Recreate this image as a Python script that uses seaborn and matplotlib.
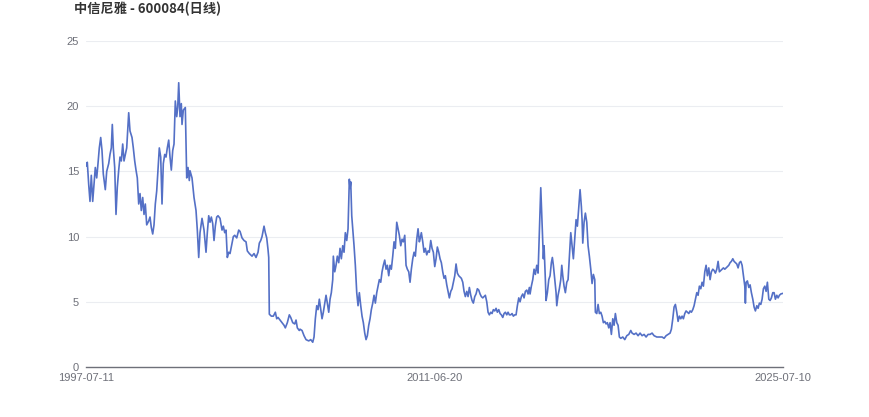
import matplotlib
matplotlib.use("Agg")
import matplotlib.pyplot as plt
import seaborn as sns
import pandas as pd

title = "中信尼雅 - 600084(日线)"
n_days = 6970
tick_labels = ["1997-07-11", "2011-06-20", "2025-07-10"]
y_ticks = [0, 5, 10, 15, 20, 25]

# trading-day index (category position)
day = [
    0, 13, 27, 40, 53, 67, 80, 93, 107, 120, 133, 147, 160, 173, 193, 207, 227, 240, 253, 263,
    273, 287, 300, 313, 327, 340, 353, 367, 380, 393, 407, 427, 440, 460, 473, 487, 500, 513, 527, 540,
    553, 567, 580, 593, 607, 627, 640, 653, 667, 680, 693, 707, 720, 733, 747, 760, 773, 787, 800, 813,
    827, 840, 853, 867, 880, 893, 907, 917, 927, 940, 953, 960, 973, 993, 1007, 1020, 1033,
    1040, 1060, 1080, 1100, 1113, 1127, 1140, 1160, 1180, 1200, 1213, 1227, 1240, 1253, 1267, 1280, 1293, 1307, 1320, 1340,
    1360, 1373, 1387, 1400, 1413, 1427, 1440, 1453, 1473, 1487, 1507, 1527, 1540, 1560, 1580, 1600, 1613, 1633, 1660, 1680,
    1700, 1720, 1733, 1747, 1760, 1780, 1793, 1807, 1820, 1827, 1833, 1853, 1873, 1893, 1907, 1920, 1940, 1960, 1980, 1993,
    2013, 2033, 2047, 2067, 2087, 2100, 2113, 2133,
    2140, 2160, 2180, 2200, 2227, 2247, 2267, 2280, 2293, 2307, 2320, 2333, 2347, 2360, 2373, 2387, 2400, 2413, 2427, 2440,
    2453, 2467, 2473, 2487, 2500, 2513, 2527, 2540, 2553, 2567, 2580, 2593, 2607, 2620, 2633, 2640, 2647, 2657, 2667, 2680,
    2693, 2707, 2720, 2733, 2747, 2760, 2773, 2787, 2800, 2813, 2827, 2840, 2853, 2867, 2880, 2893, 2907, 2920, 2933, 2947,
    2960, 2973, 2987, 3000, 3013, 3027, 3040, 3053, 3067, 3080, 3093, 3107, 3120, 3133, 3147, 3160, 3173, 3187, 3200, 3213,
    3227, 3240, 3253, 3267, 3280, 3293, 3307, 3320, 3333,
    3340, 3353, 3367, 3380, 3393, 3407, 3420, 3433, 3447, 3460, 3473, 3487, 3500, 3513, 3527, 3540, 3553, 3567, 3580, 3593,
    3607, 3620, 3633, 3647, 3660, 3673, 3687, 3700, 3713, 3727, 3740, 3753, 3767, 3780, 3793, 3807, 3820, 3833, 3847, 3860,
    3873, 3887, 3900, 3913, 3927, 3940, 3953, 3967, 3980, 3993, 4007, 4020, 4033, 4047, 4060, 4073, 4087, 4100, 4113, 4127,
    4140, 4153, 4167, 4180, 4193, 4207, 4220, 4233, 4247, 4260, 4273, 4287, 4300, 4313, 4327, 4340, 4353, 4367, 4380, 4393,
    4407, 4420, 4433,
    4440, 4453, 4467, 4480, 4493, 4507, 4520, 4533, 4547, 4557, 4567, 4573, 4580, 4587, 4593, 4600, 4613, 4627, 4640, 4653,
    4663, 4673, 4687, 4700, 4707, 4720, 4733, 4747, 4757, 4767, 4780, 4793, 4807, 4820, 4833, 4847, 4860, 4873, 4887, 4900,
    4913, 4927, 4940, 4953, 4960, 4967, 4980, 4993, 5007, 5020, 5033, 5047, 5060, 5073, 5087, 5093, 5107, 5120, 5133, 5147,
    5160, 5173, 5187, 5200, 5213, 5227, 5240, 5253, 5267, 5280, 5293, 5307, 5320, 5333, 5347, 5367, 5387, 5407, 5427, 5447,
    5460, 5480, 5500, 5520, 5540, 5560, 5580, 5600, 5620,
    5640, 5660, 5680, 5707, 5733, 5760, 5780, 5800, 5820, 5840, 5853, 5867, 5880, 5893, 5907, 5920, 5933, 5947, 5960, 5973,
    5987, 6000, 6013, 6027, 6040, 6053, 6067, 6080, 6093, 6107, 6120, 6133, 6147, 6160, 6173, 6187, 6200, 6213, 6227, 6240,
    6253, 6267, 6280, 6293, 6307, 6320, 6333, 6347, 6360, 6373, 6387, 6400, 6413, 6427, 6440, 6453, 6467, 6480, 6493, 6507,
    6520, 6533, 6547, 6560, 6573, 6587, 6593, 6600, 6613, 6627, 6640, 6653, 6667, 6680, 6693, 6707, 6720, 6733, 6747, 6760,
    6773, 6787, 6800, 6813, 6827, 6840, 6853, 6867, 6880, 6893, 6907, 6920, 6933, 6947, 6969,
]

close = [
    15.4, 15.7, 14.0, 12.7, 14.7, 12.7, 14.0, 15.3, 14.5, 15.6, 16.8, 17.6, 16.6, 14.8, 13.6, 15.0, 15.6, 16.3, 16.8, 18.6,
    16.8, 15.3, 11.7, 13.8, 15.1, 16.1, 15.8, 17.1, 15.8, 16.3, 16.8, 19.5, 18.1, 17.6, 16.8, 15.8, 15.1, 14.5, 12.5, 13.3,
    12.0, 13.0, 11.7, 12.5, 10.9, 11.2, 11.5, 10.7, 10.2, 10.9, 12.5, 13.5, 15.1, 16.8, 16.1, 12.5, 15.6, 16.3, 16.1, 16.8,
    17.4, 16.1, 15.1, 16.6, 17.1, 20.4, 19.2, 19.9, 21.8, 19.2, 20.2, 18.6, 19.7, 19.9, 14.5, 15.3, 14.3,
    15.05, 14.5, 13.0, 12.0, 10.5, 8.4, 10.3, 11.4, 10.5, 8.8, 10.3, 11.6, 11.1, 11.5, 11.0, 9.7, 10.8, 11.5, 11.6, 11.4,
    10.5, 10.8, 10.3, 10.5, 8.4, 8.8, 8.7, 9.2, 10.0, 10.1, 9.9, 10.5, 10.4, 9.9, 9.7, 9.6, 8.9, 8.7, 8.5, 8.7,
    8.4, 8.8, 9.5, 9.7, 10.0, 10.8, 10.3, 9.9, 9.0, 8.4, 4.05, 3.9, 3.9, 4.2, 3.7, 3.8, 3.6, 3.4, 3.2, 3.0,
    3.4, 4.0, 3.8, 3.4, 3.3, 3.6, 3.0, 2.8,
    2.9, 2.8, 2.4, 2.1, 2.0, 2.1, 1.9, 2.3, 3.7, 4.7, 4.4, 5.2, 4.4, 3.7, 4.2, 4.9, 5.5, 4.9, 4.2, 5.2,
    5.7, 6.7, 8.5, 7.3, 7.8, 8.5, 8.0, 9.1, 8.3, 9.3, 8.8, 10.3, 9.7, 10.6, 14.4, 13.7, 14.2, 11.6, 10.6, 9.3,
    7.8, 5.7, 4.7, 5.7, 4.7, 3.9, 3.4, 2.6, 2.1, 2.4, 3.2, 3.7, 4.4, 4.9, 5.5, 4.9, 5.7, 6.2, 6.7, 6.5,
    7.3, 7.8, 8.2, 7.5, 7.8, 7.0, 7.8, 7.5, 8.5, 9.6, 9.1, 11.1, 10.6, 10.1, 9.3, 9.8, 9.6, 10.1, 7.8, 7.5,
    7.3, 6.5, 7.5, 8.3, 8.8, 8.5, 9.8, 10.6, 9.6,
    9.8, 10.3, 9.6, 8.8, 9.1, 8.6, 8.9, 8.8, 9.7, 9.1, 8.8, 7.7, 8.3, 9.2, 8.8, 8.3, 8.0, 7.3, 6.8, 7.0,
    6.3, 5.8, 5.3, 5.8, 6.0, 6.5, 7.0, 7.9, 7.2, 7.0, 6.9, 6.8, 6.5, 5.8, 5.4, 5.8, 5.4, 6.1, 5.5, 5.1,
    4.9, 5.4, 5.6, 6.0, 5.9, 5.6, 5.4, 5.3, 5.4, 5.5, 5.0, 4.2, 4.0, 4.2, 4.1, 4.4, 4.3, 4.5, 4.2, 4.4,
    4.1, 4.0, 3.8, 4.1, 4.2, 4.0, 4.2, 4.0, 4.0, 4.1, 3.9, 4.0, 4.0, 4.7, 5.3, 5.0, 5.4, 5.6, 5.3, 5.8,
    5.9, 5.6, 6.1,
    5.6, 6.2, 6.7, 7.5, 7.1, 7.8, 7.2, 10.3, 13.75, 11.6, 9.3, 8.3, 9.3, 8.0, 6.7, 5.1, 5.7, 6.7, 7.0, 8.0,
    8.4, 7.8, 6.7, 5.7, 4.7, 5.5, 6.0, 6.7, 7.8, 7.0, 6.2, 5.7, 6.5, 6.7, 8.5, 10.3, 9.3, 8.3, 9.8, 11.3,
    10.8, 12.3, 13.6, 12.3, 11.3, 9.5, 11.1, 11.8, 11.1, 9.3, 8.5, 7.5, 6.4, 7.1, 6.7, 4.2, 4.1, 4.8, 4.1, 4.2,
    3.9, 3.4, 3.5, 3.3, 3.4, 3.0, 3.4, 2.5, 3.7, 3.2, 4.1, 3.4, 3.2, 2.3, 2.2, 2.3, 2.1, 2.4, 2.5, 2.8,
    2.6, 2.5, 2.6, 2.4, 2.6, 2.4, 2.5, 2.3, 2.5,
    2.5, 2.6, 2.4, 2.3, 2.3, 2.3, 2.2, 2.4, 2.5, 2.6, 2.9, 3.7, 4.6, 4.8, 4.2, 3.5, 3.9, 3.7, 3.9, 3.7,
    4.1, 4.3, 4.2, 4.1, 4.3, 4.2, 4.4, 4.7, 5.2, 5.7, 5.5, 6.2, 6.0, 6.5, 6.2, 7.3, 7.8, 7.0, 7.6, 6.7,
    7.3, 7.5, 7.4, 7.2, 7.5, 8.1, 7.3, 7.4, 7.5, 7.6, 7.5, 7.6, 7.7, 7.8, 8.0, 8.1, 8.3, 8.1, 8.0, 7.9,
    7.6, 8.0, 8.1, 7.8, 7.0, 6.2, 4.9, 6.5, 6.6, 6.1, 6.3, 5.7, 5.2, 4.6, 4.3, 4.7, 4.5, 4.9, 4.8, 5.2,
    6.0, 6.2, 5.8, 6.5, 5.2, 5.1, 5.3, 5.7, 5.7, 5.2, 5.5, 5.3, 5.5, 5.6, 5.65,
]

df = pd.DataFrame({"day": day, "close": close})

sns.set_style("white")
plt.rcParams["font.family"] = ["Liberation Sans", "Noto Sans CJK SC", "DejaVu Sans"]

fig = plt.figure(figsize=(8.7, 4.17), dpi=100)
ax = fig.add_axes([86 / 870, 1 - 367 / 417, 697 / 870, 326 / 417])

sns.lineplot(data=df, x="day", y="close", ax=ax, color="#5470c6", linewidth=1.2, estimator=None)

ax.set_xlim(0, n_days - 1)
ax.set_ylim(0, 25)
ax.set_yticks(y_ticks)
ax.set_yticklabels([str(v) for v in y_ticks])
ax.set_xticks([0, (n_days - 1) / 2, n_days - 1])
ax.set_xticklabels(tick_labels)
ax.set_xlabel("")
ax.set_ylabel("")

for v in y_ticks[1:]:
    ax.axhline(v, color="#EBEDF1", linewidth=0.8, zorder=0)

for s in ["top", "right", "left"]:
    ax.spines[s].set_visible(False)
ax.spines["bottom"].set_color("#6E7079")
ax.spines["bottom"].set_linewidth(1)

ax.tick_params(axis="y", length=0, pad=5, labelsize=8, labelcolor="#6E7079")
ax.tick_params(axis="x", length=0, pad=4, labelsize=8, labelcolor="#6E7079")

fig.text(74 / 870, 1 - 9 / 417, title, fontsize=9.5, fontweight="bold", color="#333333",
         ha="left", va="center", family=["Noto Sans CJK SC", "DejaVu Sans"])

fig.savefig("out.png", dpi=100)
